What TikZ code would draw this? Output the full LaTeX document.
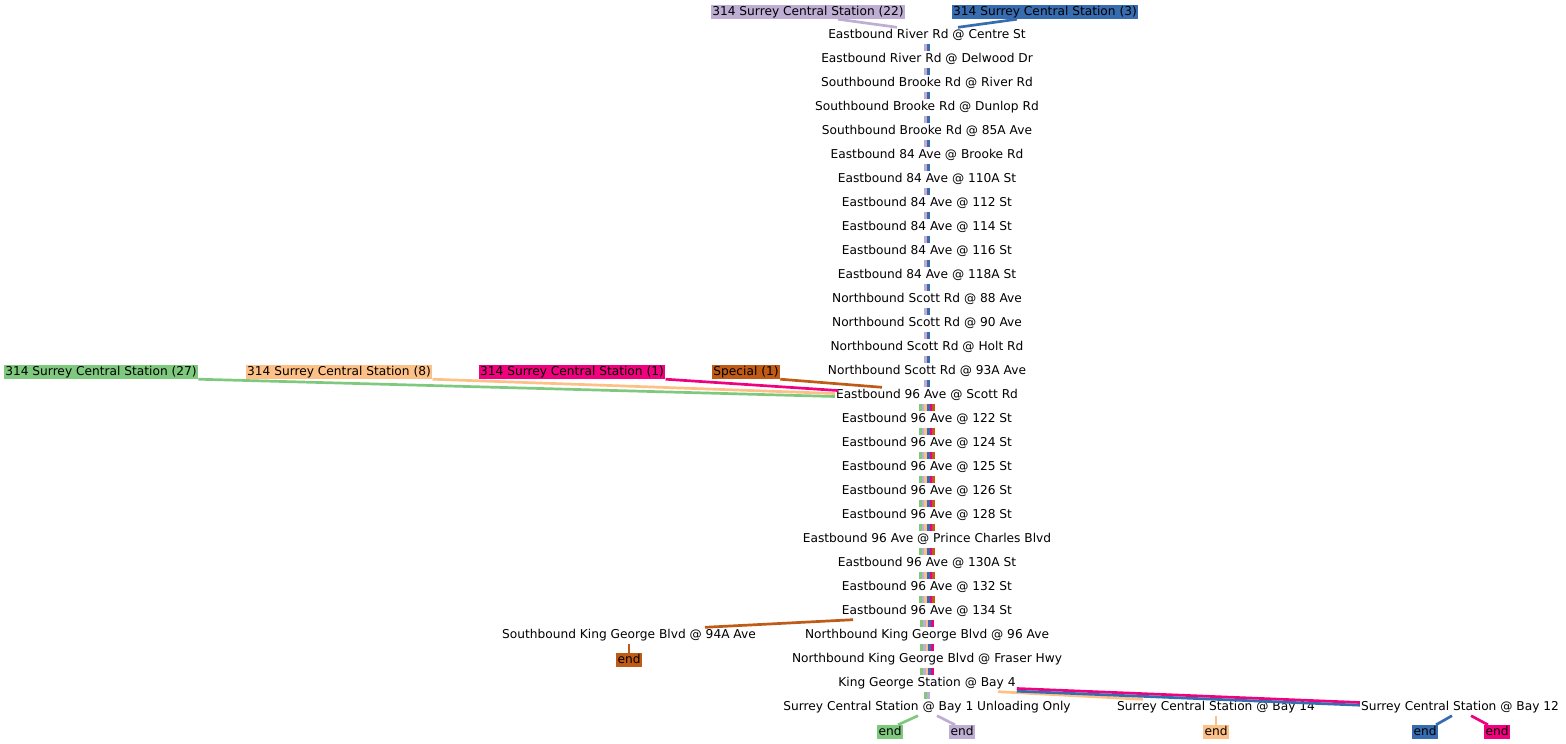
\documentclass[tikz,border=0pt]{standalone}
\usepackage{fontspec}
\setmainfont{DejaVu Sans}
\usetikzlibrary{positioning}

\definecolor{rgreen}{HTML}{7FC97F}
\definecolor{rpurple}{HTML}{BEAED4}
\definecolor{rorange}{HTML}{FDC086}
\definecolor{rblue}{HTML}{386CB0}
\definecolor{rpink}{HTML}{F0027F}
\definecolor{rbrown}{HTML}{BF5B17}

\begin{document}
\begin{tikzpicture}[x=1pt, y=-1pt,
  stop/.style={font=\fontsize{12.2}{14}\selectfont, inner xsep=1pt, inner ysep=2pt,
    text height=9pt, text depth=3pt},
  tag/.style={font=\fontsize{12.2}{14}\selectfont, inner xsep=1.5pt, inner ysep=1pt,
    text height=9.5pt, text depth=2.5pt, fill=#1},
  route/.style={line width=2.7pt, draw=#1}]
\useasboundingbox (0,0) rectangle (1566,744);

% stops along the main line
\foreach \name [count=\i] in {Eastbound River Rd @ Centre St,
    Eastbound River Rd @ Delwood Dr, Southbound Brooke Rd @ River Rd,
    Southbound Brooke Rd @ Dunlop Rd, Southbound Brooke Rd @ 85A Ave,
    Eastbound 84 Ave @ Brooke Rd, Eastbound 84 Ave @ 110A St,
    Eastbound 84 Ave @ 112 St, Eastbound 84 Ave @ 114 St,
    Eastbound 84 Ave @ 116 St, Eastbound 84 Ave @ 118A St,
    Northbound Scott Rd @ 88 Ave, Northbound Scott Rd @ 90 Ave,
    Northbound Scott Rd @ Holt Rd, Northbound Scott Rd @ 93A Ave,
    Eastbound 96 Ave @ Scott Rd, Eastbound 96 Ave @ 122 St,
    Eastbound 96 Ave @ 124 St, Eastbound 96 Ave @ 125 St,
    Eastbound 96 Ave @ 126 St, Eastbound 96 Ave @ 128 St,
    Eastbound 96 Ave @ Prince Charles Blvd, Eastbound 96 Ave @ 130A St,
    Eastbound 96 Ave @ 132 St, Eastbound 96 Ave @ 134 St,
    Northbound King George Blvd @ 96 Ave,
    Northbound King George Blvd @ Fraser Hwy,
    King George Station @ Bay 4,
    Surrey Central Station @ Bay 1 Unloading Only}
  \node [stop] (s\i) at (927,{11.5+24*\i}) {\name};

\node [stop] (k94) at (629,635.5) {Southbound King George Blvd @ 94A Ave};
\node [stop] (c14) at (1216,707.5) {Surrey Central Station @ Bay 14};
\node [stop] (c12) at (1460,707.5) {Surrey Central Station @ Bay 12};

% route labels
\node [tag=rpurple] (l22) at (808,12) {314 Surrey Central Station (22)};
\node [tag=rblue]   (l3)  at (1045,12) {314 Surrey Central Station (3)};
\node [tag=rgreen]  (l27) at (101,372) {314 Surrey Central Station (27)};
\node [tag=rorange] (l8)  at (339,372) {314 Surrey Central Station (8)};
\node [tag=rpink]   (l1)  at (572,372) {314 Surrey Central Station (1)};
\node [tag=rbrown]  (sp)  at (746,372) {Special (1)};

\node [tag=rbrown]  (ebr) at (629,660) {end};
\node [tag=rgreen]  (egr) at (890,732) {end};
\node [tag=rpurple] (epu) at (962,732) {end};
\node [tag=rorange] (eor) at (1216,732) {end};
\node [tag=rblue]   (ebl) at (1425,732) {end};
\node [tag=rpink]   (epk) at (1497,732) {end};

% bars between stops
\foreach \i [evaluate=\i as \j using int(\i+1)] in {1,...,15}
  \foreach \c/\dx in {rpurple/-1.35,rblue/1.35}
    \draw [route=\c] ([xshift=\dx pt]s\i.south) -- ([xshift=\dx pt]s\j.north);
\foreach \i [evaluate=\i as \j using int(\i+1)] in {16,...,24}
  \foreach \c/\dx in {rgreen/-6.75,rpurple/-4.05,rorange/-1.35,rblue/1.35,rpink/4.05,rbrown/6.75}
    \draw [route=\c] ([xshift=\dx pt]s\i.south) -- ([xshift=\dx pt]s\j.north);
\foreach \i [evaluate=\i as \j using int(\i+1)] in {25,...,27}
  \foreach \c/\dx in {rgreen/-5.4,rpurple/-2.7,rorange/0,rblue/2.7,rpink/5.4}
    \draw [route=\c] ([xshift=\dx pt]s\i.south) -- ([xshift=\dx pt]s\j.north);
\foreach \c/\dx in {rgreen/-1.35,rpurple/1.35}
  \draw [route=\c] ([xshift=\dx pt]s28.south) -- ([xshift=\dx pt]s29.north);

% feeders into the line
\draw [route=rpurple] ([xshift=30pt]l22.south) -- ([xshift=-30pt]s1.north);
\draw [route=rblue] ([xshift=-28pt]l3.south) -- ([xshift=31pt]s1.north);
\draw [route=rgreen] (l27.south east) -- ([yshift=-1pt]s16.west);
\draw [route=rorange] (l8.south east) -- ([yshift=2pt]s16.west);
\draw [route=rpink] (l1.south east) -- ([xshift=3pt,yshift=5pt]s16.west);
\draw [route=rbrown] (sp.south east) -- ([xshift=-45pt]s16.north);

% branches off the line
\draw [route=rbrown] ([xshift=-74pt]s25.south) -- ([xshift=76pt]k94.north);
\draw [route=rbrown] (k94) -- (ebr);
\draw [route=rorange] ([xshift=71pt]s28.south) -- ([xshift=-73pt]c14.north);
\draw [route=rpink] ([yshift=-5pt]s28.east) -- ([yshift=5pt]c12.west);
\draw [route=rblue] ([yshift=-7.7pt]s28.east) -- ([yshift=2.3pt]c12.west);
\draw [route=rgreen] ([xshift=-9pt]s29.south) -- ([xshift=8pt]egr.north);
\draw [route=rpurple] ([xshift=10pt]s29.south) -- ([xshift=-7pt]epu.north);
\draw [route=rorange] (c14) -- (eor);
\draw [route=rblue] ([xshift=-8pt]c12.south) -- ([xshift=11pt]ebl.north);
\draw [route=rpink] ([xshift=11pt]c12.south) -- ([xshift=-9pt]epk.north);
\end{tikzpicture}
\end{document}
